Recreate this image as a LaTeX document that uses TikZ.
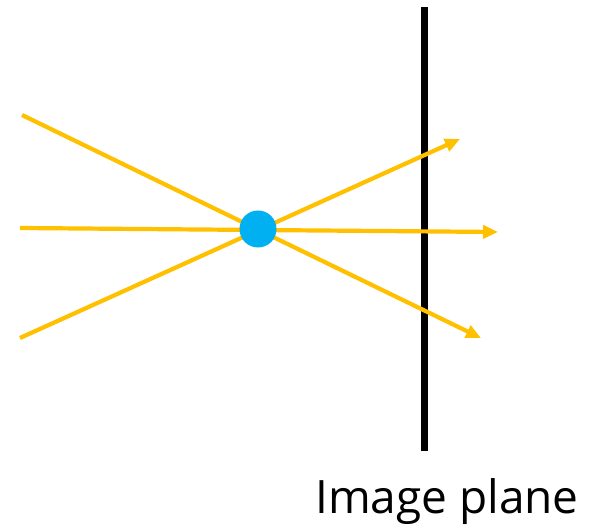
\documentclass[tikz,border=0pt]{standalone}
\usepackage{fontspec}
\setmainfont{Open Sans}
\usetikzlibrary{arrows.meta}
\definecolor{ray}{HTML}{FFC000}
\definecolor{pin}{HTML}{00B0F0}
\begin{document}
\begin{tikzpicture}[x=1pt,y=-1pt,
  raystyle/.style={draw=ray,line width=4.2pt,-{Triangle[length=15pt,width=13pt]}},
  pinhole/.style={circle,fill=pin,minimum size=37pt,inner sep=0pt},
  planestyle/.style={line width=7pt,black}]
\useasboundingbox (0,0) rectangle (590,526);
\coordinate (a1) at (22,115);
\coordinate (a2) at (20,228);
\coordinate (a3) at (20,338);
\coordinate (b1) at (460,139);
\coordinate (b2) at (498,232);
\coordinate (b3) at (481,338);
\coordinate (ptop) at (424,7);
\coordinate (pbot) at (424,451);
\draw[planestyle] (ptop) -- (pbot);
\draw[raystyle] (a1) -- (b3);
\draw[raystyle] (a2) -- (b2);
\draw[raystyle] (a3) -- (b1);
\node[pinhole] (p) at (258,229) {};
\node[anchor=base,font=\fontsize{46}{50}\selectfont] (lbl) at (447,514) {Image plane};
\end{tikzpicture}
\end{document}
